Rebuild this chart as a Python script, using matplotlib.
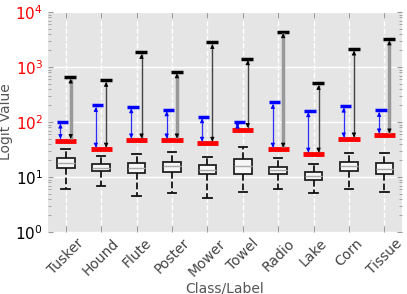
import matplotlib
matplotlib.use("Agg")
import matplotlib.pyplot as plt
import numpy as np

classes = ["Tusker", "Hound", "Flute", "Poster", "Mower", "Towel", "Radio", "Lake", "Corn", "Tissue"]
black_vals = [660, 575, 1850, 820, 2800, 1420, 4400, 505, 2130, 3250]
blue_vals = [100, 200, 190, 167, 125, 100, 228, 161, 195, 163]
red_vals = [46, 32, 47, 47, 41, 73, 32, 26, 49, 58]
box_q1 = [14.5, 12.7, 11.7, 12.5, 11.2, 11.4, 11.2, 8.7, 12.9, 11.4]
box_med = [18.2, 14.8, 14.6, 15.8, 13.4, 15.8, 13.4, 10.4, 16.0, 14.1]
box_q3 = [22.0, 17.2, 17.7, 19.0, 16.3, 21.0, 15.4, 12.2, 19.0, 18.2]
whis_lo = [6.0, 7.0, 4.5, 5.2, 4.1, 5.3, 6.1, 5.2, 6.0, 5.3]
whis_hi = [32, 24, 26, 28, 23.4, 34.6, 22, 17, 27.6, 27.6]
black_thick = [True, False, False, True, False, False, True, False, False, True]

fig = plt.figure(figsize=(4.07, 2.94), dpi=100)
ax = fig.add_axes([0.118, 0.211, 0.870, 0.748])
ax.set_facecolor("#E5E5E5")
for s in ax.spines.values():
    s.set_visible(False)

pos = np.arange(1, len(classes) + 1)
stats = []
for i in range(len(classes)):
    stats.append(dict(med=box_med[i], q1=box_q1[i], q3=box_q3[i],
                      whislo=whis_lo[i], whishi=whis_hi[i], fliers=[]))
bp = ax.bxp(stats, positions=pos, widths=0.5, patch_artist=True,
            boxprops=dict(facecolor="#F7F7F7", edgecolor="#222222", linewidth=1.3),
            medianprops=dict(color="#AAAAAA", linewidth=1.0),
            whiskerprops=dict(color="#111111", linestyle="--", linewidth=1.3),
            capprops=dict(color="#111111", linewidth=1.3))
for i in range(len(classes)):
    bp["caps"][2 * i].set_xdata([pos[i] - 0.12, pos[i] + 0.12])
    bp["caps"][2 * i + 1].set_xdata([pos[i] - 0.12, pos[i] + 0.12])


def head(x, y_from, y_to, color):
    ax.annotate("", xy=(x, y_to), xytext=(x, y_from),
                arrowprops=dict(arrowstyle="-|>", color=color, lw=0.6,
                                mutation_scale=6, shrinkA=0, shrinkB=0), zorder=6)


for i, x in enumerate(pos):
    ax.hlines(red_vals[i], x - 0.3, x + 0.3, color="red", linewidth=3.5, zorder=4)
    ax.hlines(blue_vals[i], x - 0.26, x + 0.06, color="blue", linewidth=2.5, zorder=4)
    ax.hlines(black_vals[i], x - 0.04, x + 0.3, color="black", linewidth=2.5, zorder=4)
    # blue arrow
    xb = x - 0.15
    lo_b, hi_b = red_vals[i] * 1.08, blue_vals[i] / 1.08
    ax.vlines(xb, lo_b, hi_b, color="blue", linewidth=0.9, alpha=0.8, zorder=5)
    head(xb, lo_b * 1.1, lo_b, "blue")
    head(xb, hi_b / 1.1, hi_b, "blue")
    # black arrow
    xk = x + 0.14
    lo_k, hi_k = red_vals[i] * 1.08, black_vals[i] / 1.08
    if black_thick[i]:
        ac, alw = "#999999", 2.5
    else:
        ac, alw = "#444444", 1.0
    ax.vlines(xk, lo_k, hi_k, color=ac, linewidth=alw, zorder=5)
    head(xk, lo_k * 1.1, lo_k, "black")
    head(xk, hi_k / 1.1, hi_k, "black")

ax.set_yscale("log")
ax.set_ylim(1, 1e4)
ax.set_xlim(0.5, len(classes) + 0.5)
ax.set_xticks(pos)
ax.set_xticklabels(classes, rotation=45, fontsize=10, color="#444444")
ax.set_yticks([1, 10, 100, 1000, 10000])
ax.set_yticklabels([r"$10^{0}$", r"$10^{1}$", r"$10^{2}$", r"$10^{3}$", r"$10^{4}$"], fontsize=11)
for lbl, c in zip(ax.get_yticklabels(), ["black", "black", "red", "red", "red"]):
    lbl.set_color(c)
ax.tick_params(axis="both", direction="in", color="#999999", top=True, right=True)
ax.tick_params(axis="y", which="minor", direction="in", color="#999999", right=True, left=True, length=2)
ax.tick_params(axis="x", which="major", length=4, pad=3)
ax.grid(True, axis="y", which="major", color="white", linewidth=1.0)
ax.grid(True, axis="x", which="major", color="white", linestyle="--", linewidth=1.0)
ax.set_axisbelow(True)
ax.set_xlabel("Class/Label", color="#555555", fontsize=10, labelpad=2)
ax.set_ylabel("Logit Value", color="#555555", fontsize=10, labelpad=2)

fig.savefig("out.png", dpi=100)
